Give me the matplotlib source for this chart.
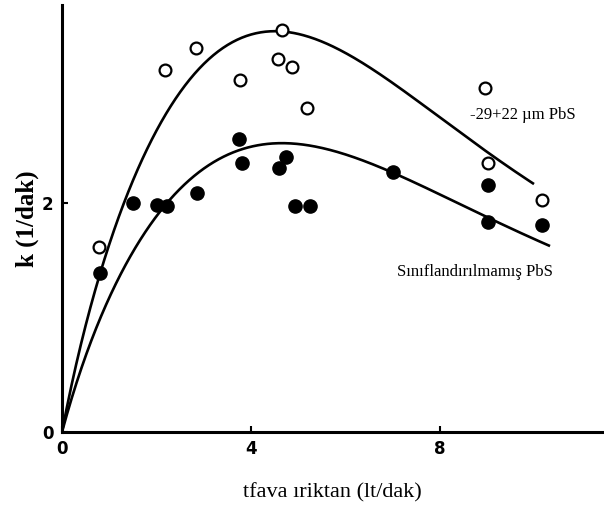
import numpy as np
import matplotlib
matplotlib.use("Agg")
import matplotlib.pyplot as plt

# ---- data ----
# -29+22 um PbS (open circles)
open_x = [0.78, 2.18, 2.84, 3.77, 4.66, 4.58, 4.87, 5.19, 8.96, 9.03, 10.17]
open_k = [1.62, 3.16, 3.35, 3.07, 3.51, 3.26, 3.19, 2.83, 3.00, 2.35, 2.03]
# Siniflandirilmamis PbS (filled circles)
fill_x = [0.81, 1.50, 2.01, 2.22, 2.86, 3.75, 3.81, 4.60, 4.75, 4.94, 5.25, 7.01, 9.03, 9.03, 10.17]
fill_k = [1.39, 2.00, 1.98, 1.97, 2.09, 2.56, 2.35, 2.31, 2.40, 1.97, 1.97, 2.27, 2.16, 1.83, 1.81]

# points (curves start at the origin)
upper_curve_x = [0.77, 1.4, 2.0, 3.0, 4.4, 6.5, 7.2, 9.0, 10.0]
upper_curve_k = [1.33, 2.03, 2.73, 3.25, 3.45, 3.17, 3.00, 2.46, 2.16]
lower_curve_x = [0.93, 1.62, 1.94, 4.3, 5.5, 6.55, 7.04, 9.04, 10.34]
lower_curve_k = [1.07, 1.68, 1.91, 2.50, 2.46, 2.33, 2.27, 1.88, 1.62]

x_ticks = [0, 4, 8]
y_ticks = [0, 2]

x_label = "tfava ıriktan (lt/dak)"
y_label = "k (1/dak)"
label_open = "-29+22 µm PbS"
label_fill = "Sınıflandırılmamış PbS"


def smooth_fit(cx, ck):
    cx = np.asarray(cx, float)
    ck = np.asarray(ck, float)
    coef = np.polyfit(cx, cx / ck, 3)
    xs = np.linspace(0, cx.max(), 400)
    return xs, xs / np.polyval(coef, xs)


W, H = 604, 516
fig = plt.figure(figsize=(W / 100, H / 100), dpi=100)
ax = fig.add_axes([62 / W, 1 - 432 / H, 540 / W, 427 / H])

ux, uk = smooth_fit(upper_curve_x, upper_curve_k)
lx, lk = smooth_fit(lower_curve_x, lower_curve_k)
ax.plot(ux, uk, color="black", lw=1.9, solid_capstyle="butt", zorder=2)
ax.plot(lx, lk, color="black", lw=1.9, solid_capstyle="butt", zorder=2)

ax.plot(open_x, open_k, linestyle="none", marker="o", ms=8.5, mfc="white",
        mec="black", mew=1.6, zorder=3)
ax.plot(fill_x, fill_k, linestyle="none", marker="o", ms=9.5, mfc="black",
        mec="black", zorder=3)

ax.set_xlim(0, 540 / 47.2)
ax.set_ylim(0, 427 / 114.5)
ax.set_xticks(x_ticks)
ax.set_yticks(y_ticks)
ax.tick_params(direction="in", length=4, width=1.5, labelsize=12, pad=6)
for lab in ax.get_xticklabels() + ax.get_yticklabels():
    lab.set_fontweight("bold")
for s in ["top", "right"]:
    ax.spines[s].set_visible(False)
for s in ["left", "bottom"]:
    ax.spines[s].set_linewidth(2.2)

ax.set_xlabel(x_label, fontsize=16, family="Liberation Serif", labelpad=18)
ax.set_ylabel(y_label, fontsize=18, family="Liberation Serif", fontweight="bold",
              labelpad=2)

fig.text(470 / W, 1 - 115 / H, label_open, fontsize=12,
         family="Liberation Serif", va="center", ha="left")
fig.text(397 / W, 1 - 272 / H, label_fill, fontsize=12,
         family="Liberation Serif", va="center", ha="left")

fig.savefig("out.png", dpi=100)
